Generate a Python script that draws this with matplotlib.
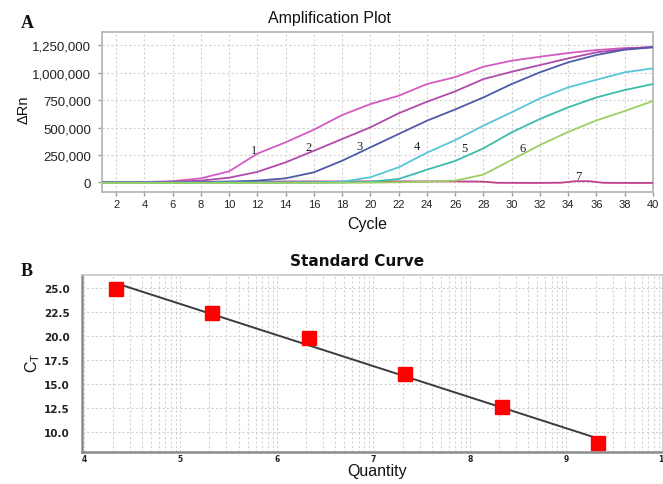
import numpy as np
import matplotlib
matplotlib.use("Agg")
import matplotlib.pyplot as plt
from matplotlib.ticker import FuncFormatter, FixedLocator

# ---------------- amplification data (delta Rn, per cycle) ----------------
cycles = [1, 2, 4, 6, 8, 10, 12, 14, 16, 18, 20, 22, 24, 26, 28, 30, 32, 34, 36, 38, 40]

rn_1 = [0, 0, 2000, 10000, 36000, 100000, 262000, 365000, 480000, 614000, 714000,
        790000, 897000, 960000, 1055000, 1110000, 1146000, 1180000, 1207000, 1225000, 1232000]
rn_2 = [0, 0, 0, 5000, 15000, 42000, 95000, 182000, 288000, 395000, 502000,
        630000, 735000, 830000, 942000, 1009000, 1070000, 1131000, 1186000, 1216000, 1237000]
rn_3 = [0, 0, 0, 0, 2000, 5000, 15000, 36000, 91000, 197000, 319000,
        441000, 562000, 665000, 775000, 897000, 1004000, 1095000, 1162000, 1210000, 1232000]
rn_4 = [-3000, -3000, -3000, -3000, -3000, -2000, -2000, -1000, 0, 5000, 46000,
        137000, 270000, 385000, 517000, 639000, 766000, 867000, 936000, 1004000, 1040000]
rn_5 = [-5000, -5000, -5000, -5000, -5000, -5000, -4000, -4000, -3000, -2000, 5000,
        30000, 115000, 195000, 310000, 456000, 578000, 684000, 775000, 842000, 897000]
rn_6 = [-6000, -6000, -6000, -6000, -6000, -6000, -6000, -5000, -5000, -4000, -3000,
        0, 5000, 15000, 70000, 205000, 340000, 460000, 565000, 650000, 742000]

cycles_7 = [1, 6, 10, 16, 22, 26, 28, 29, 32, 33.5, 34.5, 35.5, 36.5, 38, 40]
rn_7 = [0, 2000, 6000, 8000, 8000, 8000, 6000, -5000, -6000, -4000, 10000, 10000, -5000, -6000, -6000]

curve_ids = ["1", "2", "3", "4", "5", "6", "7"]
curve_colors = ["#d35cc2", "#b04aab", "#4f5aa8", "#56c6d8", "#3cbcab", "#9ccf63", "#c0408a"]
id_cycle = [11.75, 15.64, 19.24, 23.27, 26.66, 30.76, 34.7]
id_rn = [295000, 322000, 331000, 331000, 313000, 313000, 57000]

# ---------------- standard curve data ----------------
quantity = [4.33, 5.33, 6.33, 7.33, 8.33, 9.33]
ct = [24.9, 22.4, 19.8, 16.1, 12.6, 8.85]

SANS = "Liberation Sans"
SERIF = "Liberation Serif"

W, H = 663, 485
fig = plt.figure(figsize=(W / 100, H / 100), dpi=100)
fig.patch.set_facecolor("white")


def frac_box(left, top, right, bottom):
    return [left / W, 1 - bottom / H, (right - left) / W, (bottom - top) / H]


grid_kw = dict(color="#d2d2d2", linestyle=(0, (2, 2)), linewidth=0.8)

# ================= A: amplification plot =================
ax1 = fig.add_axes(frac_box(102, 33.3, 653, 192.7))
# no-template control underneath, then the dilutions; the latest-rising
# (green) traces end up on top along the baseline
ax1.plot(cycles_7, rn_7, color=curve_colors[6], linewidth=1.3, zorder=3)
series = [rn_1, rn_2, rn_3, rn_4, rn_5, rn_6]
for vals, col in zip(series, curve_colors[:6]):
    ax1.plot(cycles, vals, color=col, linewidth=1.3, zorder=3)

for lab, cx, cy in zip(curve_ids, id_cycle, id_rn):
    ax1.text(cx, cy, lab, fontfamily=SERIF, fontsize=9, color="#222222",
             ha="center", va="center", zorder=4)

ax1.set_xlim(1, 40)
ax1.set_ylim(-86000, 1369000)
ax1.set_xticks(range(2, 41, 2))
ax1.set_yticks(range(0, 1250001, 250000))
ax1.yaxis.set_major_formatter(FuncFormatter(lambda v, p: f"{v:,.0f}"))
ax1.grid(True, **grid_kw)
ax1.set_axisbelow(True)
for s in ax1.spines.values():
    s.set_color("#bdbdbd")
    s.set_linewidth(1.4)
ax1.tick_params(axis="x", length=3, width=1, color="#9a9a9a", pad=2,
                labelsize=8, labelcolor="#222222")
ax1.tick_params(axis="y", length=3, width=1, color="#9a9a9a", pad=5,
                labelsize=9.5, labelcolor="#222222")
for t in ax1.get_xticklabels() + ax1.get_yticklabels():
    t.set_fontfamily(SANS)

fig.text(330 / W, 1 - 18 / H, "Amplification Plot", fontfamily=SANS, fontsize=11.5,
         ha="center", va="center", color="#111111")
fig.text(367 / W, 1 - 225 / H, "Cycle", fontfamily=SANS, fontsize=11.5,
         ha="center", va="center", color="#111111")
fig.text(24 / W, 1 - 110 / H, "ΔRn", fontfamily=SANS, fontsize=10.5,
         ha="center", va="center", rotation=90, color="#111111")
fig.text(27 / W, 1 - 24 / H, "A", fontfamily=SERIF, fontweight="bold", fontsize=13,
         ha="center", va="center", color="#111111")

# ================= B: standard curve =================
ax2 = fig.add_axes(frac_box(82, 275.7, 663, 452.7))
slope, intercept = np.polyfit(quantity, ct, 1)
fit_x = np.array([quantity[0], quantity[-1]])
ax2.plot(fit_x, slope * fit_x + intercept, color="#3c3c3c", linewidth=1.4, zorder=3)
ax2.plot(quantity, ct, linestyle="none", marker="s", markersize=9.5,
         markerfacecolor="#ff0000", markeredgecolor="#ff0000", zorder=4)

ax2.set_xlim(3.98, 10)
ax2.set_ylim(7.98, 26.42)
ax2.set_xticks(range(4, 11))
minor_x = [d + np.log10(k) for d in range(4, 10) for k in range(2, 10)]
ax2.xaxis.set_minor_locator(FixedLocator(minor_x))
ax2.set_yticks([10.0, 12.5, 15.0, 17.5, 20.0, 22.5, 25.0])
ax2.yaxis.set_major_formatter(FuncFormatter(lambda v, p: f"{v:.1f}"))
ax2.grid(True, which="both", **grid_kw)
ax2.set_axisbelow(True)
for side in ("top", "right"):
    ax2.spines[side].set_color("#c8c8c8")
    ax2.spines[side].set_linewidth(1.2)
for side in ("left", "bottom"):
    ax2.spines[side].set_color("#8c8c8c")
    ax2.spines[side].set_linewidth(1.8)
ax2.tick_params(axis="x", which="minor", length=0)
ax2.tick_params(axis="x", which="major", length=0, pad=2,
                labelsize=5.5, labelcolor="#222222")
ax2.tick_params(axis="y", length=0, pad=9, labelsize=7.5, labelcolor="#222222")
for t in ax2.get_xticklabels() + ax2.get_yticklabels():
    t.set_fontfamily("DejaVu Sans")
    t.set_fontweight("bold")

fig.text(357 / W, 1 - 262 / H, "Standard Curve", fontfamily="DejaVu Sans",
         fontweight="bold", fontsize=11, ha="center", va="center", color="#111111")
fig.text(377 / W, 1 - 472 / H, "Quantity", fontfamily=SANS, fontsize=11.5,
         ha="center", va="center", color="#111111")
fig.text(33 / W, 1 - 363 / H, r"C$_\mathregular{T}$", fontfamily=SANS, fontsize=11.5,
         ha="center", va="center", rotation=90, color="#111111")
fig.text(27 / W, 1 - 271 / H, "B", fontfamily=SERIF, fontweight="bold", fontsize=13,
         ha="center", va="center", color="#111111")

fig.savefig("out.png", dpi=100)
